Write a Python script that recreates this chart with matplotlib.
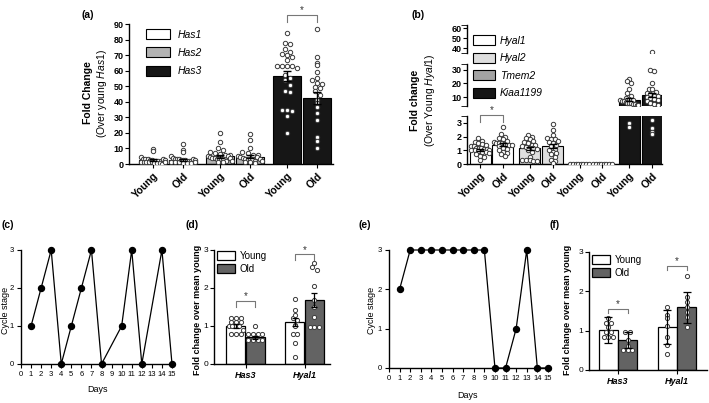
import matplotlib
matplotlib.use('Agg')
import matplotlib.pyplot as plt
from matplotlib.patches import Patch
import numpy as np

plt.rcParams['font.family'] = ['Liberation Sans', 'DejaVu Sans']
plt.rcParams['mathtext.fontset'] = 'custom'
plt.rcParams['mathtext.it'] = 'Liberation Sans:italic'
plt.rcParams['mathtext.rm'] = 'Liberation Sans'
plt.rcParams['axes.linewidth'] = 1.0

# ---------------- data ----------------
# (a) Has genes, fold change over young Has1
a_genes = ['Has1', 'Has2', 'Has3']
a_young_mean = [2.5, 5.0, 56.5]
a_old_mean = [2.6, 4.6, 42.5]
a_young_sem = [0.5, 0.9, 3.2]
a_old_sem = [0.6, 0.9, 4.0]
has1_young = [9.5, 8.5, 4.3, 3.5, 3.0, 3.0, 2.5, 2.5, 2.2, 2.0, 2.0, 1.8, 1.5, 1.5, 1.2, 1.0,
              1.0, 0.8, 0.6, 0.5, 0.3, 3.2, 2.8, 1.3]
has1_old = [12.6, 9.0, 7.5, 5.1, 4.0, 3.5, 3.2, 3.0, 2.8, 2.5, 2.3, 2.0, 2.0, 1.8, 1.5, 1.2,
            1.0, 0.8, 0.6, 0.4, 3.4, 2.6, 1.6]
has2_young = [19.7, 14.3, 10.0, 9.0, 8.0, 7.0, 6.5, 6.0, 5.5, 5.0, 4.5, 4.0, 4.0, 3.5, 3.0,
              3.0, 2.5, 2.0, 1.5, 1.0, 5.2, 3.8, 2.2]
has2_old = [19.0, 15.5, 10.0, 8.0, 7.0, 6.0, 5.5, 5.0, 4.5, 4.0, 3.5, 3.0, 3.0, 2.5, 2.0,
            1.5, 1.0, 0.8, 4.2, 3.2, 1.8]
has3_young = [84, 78, 77, 74, 72, 71, 70, 69, 67, 63, 63, 63, 63, 62, 57, 55, 54, 51, 47,
              46, 35, 35, 34, 31, 20]
has3_old = [86.6, 68.6, 65.1, 63.6, 59.4, 55, 54, 52, 51.4, 49.7, 48.6, 47, 44.4, 41, 39,
            36.4, 32.6, 28.3, 17.6, 15, 10]

# (b) hyaluronidases, fold change over young Hyal1
b_genes = ['Hyal1', 'Hyal2', 'Tmem2', 'Kiaa1199']
b_young_mean = [1.05, 1.15, 0.02, 8.0]
b_old_mean = [1.4, 1.3, 0.02, 11.5]
b_young_sem = [0.08, 0.1, 0.0, 1.0]
b_old_sem = [0.1, 0.13, 0.0, 1.8]
hyal1_young = [1.9, 1.7, 1.6, 1.5, 1.45, 1.4, 1.3, 1.3, 1.2, 1.2, 1.15, 1.1, 1.1, 1.05, 1.0,
               1.0, 0.95, 0.9, 0.85, 0.8, 0.7, 0.6, 0.5, 0.3]
hyal1_old = [2.7, 2.2, 2.0, 1.9, 1.8, 1.7, 1.6, 1.55, 1.5, 1.5, 1.45, 1.4, 1.4, 1.35, 1.3,
             1.2, 1.1, 1.0, 0.9, 0.8, 0.7, 0.6]
hyal2_young = [2.1, 2.0, 1.9, 1.8, 1.7, 1.6, 1.5, 1.4, 1.35, 1.3, 1.25, 1.2, 1.15, 1.1, 1.0,
               0.9, 0.5, 0.3, 0.3, 0.3, 0.25, 0.25]
hyal2_old = [2.9, 2.5, 2.1, 1.9, 1.85, 1.8, 1.7, 1.6, 1.5, 1.4, 1.3, 1.1, 1.0, 0.9, 0.8,
             0.7, 0.5, 0.3, 0.2, 0.1]
tmem2_young = [0.02, 0.02, 0.02, 0.02, 0.02, 0.02, 0.02, 0.02]
tmem2_old = [0.02, 0.02, 0.02, 0.02, 0.02, 0.02, 0.02, 0.02]
kiaa_young = [23, 21.5, 20, 16, 13, 10.5, 9, 8.5, 8, 7.5, 7, 7, 6.5, 6, 6, 5.5, 5, 5, 4.5,
              4.5, 3.0, 2.7]
kiaa_old = [36.5, 30, 29, 20, 16, 15.5, 14, 13, 12, 11, 10.5, 10, 9, 8.5, 8, 7, 6, 5, 4.5,
            3.2, 2.6, 2.3, 2.2]

# (c) and (e) cycle stage per day
c_days = [1, 2, 3, 4, 5, 6, 7, 8, 10, 11, 12, 14, 15]
c_stage = [1, 2, 3, 0, 1, 2, 3, 0, 1, 3, 0, 3, 0]
e_days = [1, 2, 3, 4, 5, 6, 7, 8, 9, 10, 11, 12, 13, 14, 15]
e_stage = [2, 3, 3, 3, 3, 3, 3, 3, 3, 0, 0, 1, 3, 0, 0]

# (d) fold change over mean young (SEM)
d_genes = ['Has3', 'Hyal1']
d_young_mean = [1.0, 1.1]
d_old_mean = [0.70, 1.68]
d_young_err = [0.05, 0.1]
d_old_err = [0.03, 0.18]
d_has3_young = [1.2, 1.2, 1.2, 1.11, 1.11, 1.11, 1.0, 1.0, 1.0, 1.0, 0.9, 0.79, 0.79, 0.79]
d_has3_old = [1.0, 0.79, 0.79, 0.79, 0.79, 0.63, 0.63, 0.63, 0.63]
d_hyal1_young = [1.72, 1.42, 1.2, 1.17, 1.03, 1.0, 0.8, 0.8, 0.55, 0.19, 1.3]
d_hyal1_old = [2.65, 2.56, 2.47, 2.05, 1.68, 1.5, 1.24, 0.98, 0.98, 0.98]

# (f) fold change over mean young (SD)
f_young_mean = [1.02, 1.1]
f_old_mean = [0.76, 1.59]
f_young_err = [0.34, 0.43]
f_old_err = [0.21, 0.4]
f_has3_young = [1.31, 1.2, 1.2, 1.1, 0.97, 0.97, 0.85, 0.85, 0.85]
f_has3_old = [0.97, 0.97, 0.76, 0.61, 0.51, 0.51, 0.51]
f_hyal1_young = [1.61, 1.4, 1.31, 1.12, 0.85, 0.64, 0.4]
f_hyal1_old = [2.39, 1.86, 1.74, 1.61, 1.48, 1.36, 1.1]

# ---------------- helpers ----------------
W, H = 709, 403
fig = plt.figure(figsize=(W / 100, H / 100), dpi=100)
DOT_EDGE = '#3a3a3a'


def add_ax(l, t, r, b):
    return fig.add_axes([l / W, 1 - b / H, (r - l) / W, (b - t) / H])


def swarm(vals, bin_size, step, maxw):
    v = np.asarray(vals, float)
    offs = np.zeros(len(v))
    keys = np.round(v / bin_size).astype(int)
    for k in np.unique(keys):
        idx = np.where(keys == k)[0]
        n = len(idx)
        st = step if n <= 1 or (n - 1) * step <= maxw else maxw / (n - 1)
        offs[idx] = (np.arange(n) - (n - 1) / 2) * st
    return offs


def dots(ax, x, vals, bin_size, step, maxw, s=10):
    if len(vals) == 0:
        return
    ax.scatter(x + swarm(vals, bin_size, step, maxw), vals, s=s, facecolor='white',
               edgecolor=DOT_EDGE, linewidth=0.7, zorder=3)


def bracket(ax, x1, x2, y_top, y_bot, y_star, fs=7):
    ax.plot([x1, x1, x2, x2], [y_bot, y_top, y_top, y_bot], color='#777777', lw=0.8,
            clip_on=False, zorder=4)
    ax.text((x1 + x2) / 2, y_star, '*', ha='center', va='center', fontsize=fs, color='#333333')


def clean(ax):
    ax.spines['top'].set_visible(False)
    ax.spines['right'].set_visible(False)


# ---------------- (a) ----------------
ax = add_ax(129, 24, 333, 164)
clean(ax)
a_cols = ['white', '#b3b3b3', '#161616']
a_young_sets = [has1_young, has2_young, has3_young]
a_old_sets = [has1_old, has2_old, has3_old]
a_pos = []
for i in range(3):
    xy, xo = i * 2.235, i * 2.235 + 1
    a_pos += [xy, xo]
    ax.bar([xy, xo], [a_young_mean[i], a_old_mean[i]], width=0.95, color=a_cols[i],
           edgecolor='black', linewidth=0.8, zorder=1)
    dots(ax, xy, a_young_sets[i], 3.5, 0.17, 0.8)
    dots(ax, xo, a_old_sets[i], 3.5, 0.17, 0.8)
    ax.errorbar([xy, xo], [a_young_mean[i], a_old_mean[i]],
                yerr=[a_young_sem[i], a_old_sem[i]], fmt='none', ecolor='black',
                elinewidth=1, capsize=3, capthick=1, zorder=4)
ax.set_xlim(-0.8, 6.0)
ax.set_ylim(0, 90)
ax.set_yticks(np.arange(0, 91, 10))
ax.set_xticks(a_pos)
ax.set_xticklabels(['Young', 'Old'] * 3, rotation=45, ha='right', rotation_mode='anchor',
                   fontsize=7.5, fontweight='bold')
ax.tick_params(axis='y', labelsize=6.5, length=3, pad=1)
ax.tick_params(axis='x', length=3, pad=2)
for t in ax.get_yticklabels():
    t.set_fontweight('bold')
bracket(ax, a_pos[4], a_pos[5], 95.8, 91.3, 99)
fig.legend([Patch(facecolor=c, edgecolor='black', lw=0.8) for c in a_cols], a_genes,
           loc='upper left', bbox_to_anchor=(146 / W, 1 - 29 / H), frameon=False,
           prop={'style': 'italic', 'size': 7.5}, handlelength=2.3, handleheight=1.1,
           labelspacing=0.75, handletextpad=0.7, borderpad=0, borderaxespad=0)
fig.text(88 / W, 1 - 93 / H, 'Fold Change', rotation=90, ha='center', va='center',
         fontsize=7.5, fontweight='bold')
fig.text(102 / W, 1 - 93 / H, r'(Over young $\mathit{Has1}$)', rotation=90, ha='center',
         va='center', fontsize=7.5)

# ---------------- (b) broken axis ----------------
b_cols = ['white', '#dedede', '#a3a3a3', '#161616']
b_young_sets = [hyal1_young, hyal2_young, tmem2_young, kiaa_young]
b_old_sets = [hyal1_old, hyal2_old, tmem2_old, kiaa_old]
segs = [((25, 52.5), (36, 63), [40, 50, 60]),
        ((64, 106), (3.5, 34), [10, 20, 30]),
        ((116, 164), (0, 3.5), [0, 1, 2, 3])]
b_pos = []
for i in range(4):
    b_pos += [i * 2.174, i * 2.174 + 1]
b_axes = []
for (top, bot), ylim, ticks in segs:
    ax = add_ax(467, top, 662, bot)
    clean(ax)
    lo, hi = ylim
    bs = 0.3 if hi < 5 else 3.0
    for i in range(4):
        xy, xo = b_pos[2 * i], b_pos[2 * i + 1]
        ax.bar([xy, xo], [b_young_mean[i], b_old_mean[i]], width=0.92, color=b_cols[i],
               edgecolor='black', linewidth=0.8, zorder=1)
        yv = [v for v in b_young_sets[i] if lo <= v < hi or (lo == 0 and v < hi)]
        ov = [v for v in b_old_sets[i] if lo <= v < hi or (lo == 0 and v < hi)]
        dots(ax, xy, yv, bs, 0.16, 0.8)
        dots(ax, xo, ov, bs, 0.16, 0.8)
        if b_young_sem[i] > 0:
            ax.errorbar([xy, xo], [b_young_mean[i], b_old_mean[i]],
                        yerr=[b_young_sem[i], b_old_sem[i]], fmt='none', ecolor='black',
                        elinewidth=1, capsize=3, capthick=1, zorder=4)
    ax.set_xlim(-0.57, 7.95)
    ax.set_ylim(*ylim)
    ax.set_yticks(ticks)
    ax.set_yticks(list(ylim), minor=True)
    ax.tick_params(axis='y', which='minor', length=4)
    ax.tick_params(axis='y', labelsize=6.5, length=3, pad=1)
    for t in ax.get_yticklabels():
        t.set_fontweight('bold')
    b_axes.append(ax)
for ax in b_axes[:2]:
    ax.spines['bottom'].set_visible(False)
    ax.set_xticks([])
axb = b_axes[2]
axb.set_xticks(b_pos)
axb.set_xticklabels(['Young', 'Old'] * 4, rotation=45, ha='right', rotation_mode='anchor',
                    fontsize=7.5, fontweight='bold')
axb.tick_params(axis='x', length=3, pad=2)
bracket(axb, b_pos[0], b_pos[1], 3.55, 3.05, 3.95)
fig.legend([Patch(facecolor=c, edgecolor='black', lw=0.8) for c in b_cols], b_genes,
           loc='upper left', bbox_to_anchor=(473 / W, 1 - 35 / H), frameon=False,
           prop={'style': 'italic', 'size': 7.5}, handlelength=2.1, handleheight=1.1,
           labelspacing=0.68, handletextpad=0.5, borderpad=0, borderaxespad=0)
fig.text(415 / W, 1 - 100 / H, 'Fold change', rotation=90, ha='center', va='center',
         fontsize=7.5, fontweight='bold')
fig.text(430 / W, 1 - 100 / H, r'(Over Young $\mathit{Hyal1}$)', rotation=90,
         ha='center', va='center', fontsize=7.5)


# ---------------- (c) and (e) ----------------
def cycle_panel(box, days, stage, xlab_xy, ylab_x):
    ax = add_ax(*box)
    clean(ax)
    ax.plot(days, stage, color='black', lw=0.9, marker='o', ms=4.3, clip_on=False, zorder=3)
    ax.set_xlim(0, 15.1)
    ax.set_ylim(0, 3)
    ax.set_xticks(range(16))
    ax.set_yticks([0, 1, 2, 3])
    ax.tick_params(labelsize=5.5, length=3, pad=2)
    fig.text(xlab_xy[0] / W, 1 - xlab_xy[1] / H, 'Days', ha='center', va='center',
             fontsize=6.5)
    fig.text(ylab_x / W, 1 - 310 / H, 'Cycle stage', rotation=90, ha='center',
             va='center', fontsize=6.5)
    return ax


cycle_panel((21, 250, 173, 364), c_days, c_stage, (97, 390), 6)
cycle_panel((389, 250, 549, 368), e_days, e_stage, (468, 395), 372)


# ---------------- (d) and (f) ----------------
def young_old_panel(box, xlim, ym, om, ye, oe, sets, cap, legend_xy, ylab_x, brackets):
    ax = add_ax(*box)
    clean(ax)
    for i in range(2):
        xc = i * 3.03
        ax.bar([xc - 0.5, xc + 0.5], [ym[i], om[i]], width=0.98, color=['white', '#636363'],
               edgecolor='black', linewidth=0.9, zorder=1)
        dots(ax, xc - 0.5, sets[2 * i], 0.12, 0.24, 0.75, s=9)
        dots(ax, xc + 0.5, sets[2 * i + 1], 0.12, 0.24, 0.75, s=9)
        ax.errorbar([xc - 0.5, xc + 0.5], [ym[i], om[i]], yerr=[ye[i], oe[i]], fmt='none',
                    ecolor='black', elinewidth=0.9, capsize=cap, capthick=0.9, zorder=4)
    ax.set_xlim(*xlim)
    ax.set_ylim(0, 3)
    ax.set_yticks([0, 1, 2, 3])
    ax.set_xticks([0, 3.03])
    ax.set_xticklabels(d_genes, fontsize=6.5, fontweight='bold', fontstyle='italic')
    ax.tick_params(axis='y', labelsize=6, length=3, pad=1)
    ax.tick_params(axis='x', length=3, pad=2)
    for (x1, x2, yt, yb, ys) in brackets:
        bracket(ax, x1, x2, yt, yb, ys)
    fig.legend([Patch(facecolor=c, edgecolor='black', lw=0.9) for c in ['white', '#636363']],
               ['Young', 'Old'], loc='upper left',
               bbox_to_anchor=(legend_xy[0] / W, 1 - legend_xy[1] / H), frameon=False,
               fontsize=7, handlelength=1.8, handleheight=1.0, labelspacing=0.3,
               handletextpad=0.5, borderpad=0, borderaxespad=0)
    fig.text(ylab_x / W, 1 - 310 / H, 'Fold change over mean young', rotation=90,
             ha='center', va='center', fontsize=6.5, fontweight='bold')
    return ax


young_old_panel((214, 250, 330, 364), (-1.62, 4.33), d_young_mean, d_old_mean,
                d_young_err, d_old_err,
                [d_has3_young, d_has3_old, d_hyal1_young, d_hyal1_old], 2,
                (217, 251), 197,
                [(-0.5, 0.5, 1.65, 1.5, 1.78), (2.53, 3.53, 2.89, 2.74, 3.0)])
young_old_panel((589, 252, 707, 370), (-1.49, 4.56), f_young_mean, f_old_mean,
                f_young_err, f_old_err,
                [f_has3_young, f_has3_old, f_hyal1_young, f_hyal1_old], 3,
                (592, 255), 567,
                [(-0.5, 0.5, 1.55, 1.45, 1.67), (2.53, 3.53, 2.65, 2.55, 2.78)])

# ---------------- panel letters ----------------
for lab, x, y in [('(a)', 88, 15), ('(b)', 418, 15), ('(c)', 8, 225), ('(d)', 192, 225),
                  ('(e)', 365, 225), ('(f)', 555, 225)]:
    fig.text(x / W, 1 - y / H, lab, ha='center', va='center', fontsize=7.5,
             fontweight='bold')

fig.savefig('out.png', dpi=100)
